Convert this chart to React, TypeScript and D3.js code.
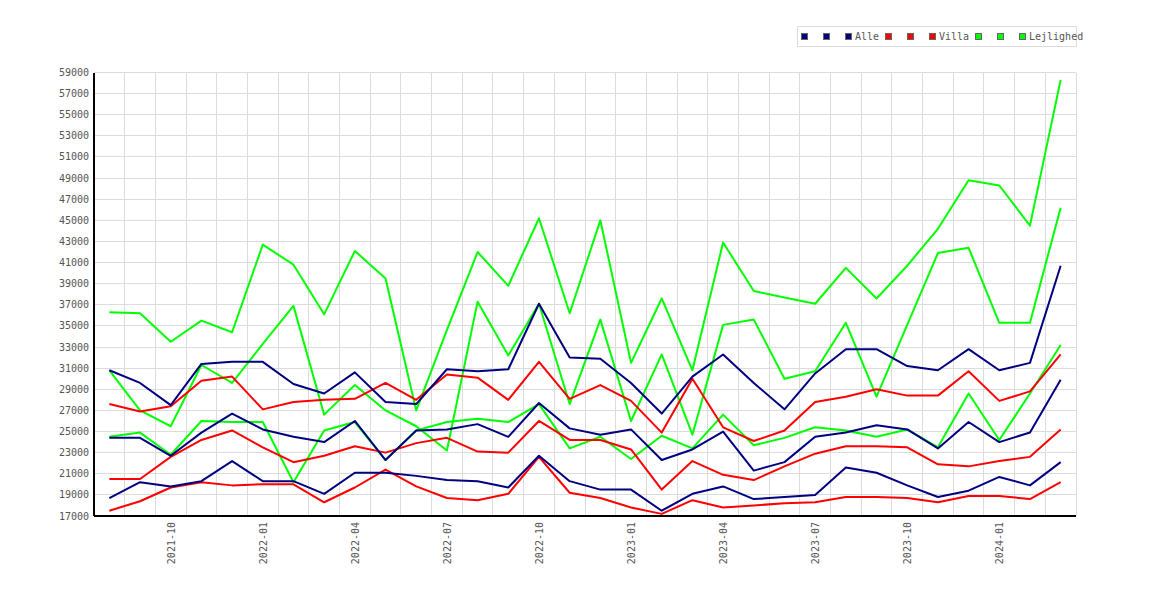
import { line, scaleBand, scaleLinear } from "d3";

const months = [
  "2021-08", "2021-09", "2021-10", "2021-11", "2021-12", "2022-01", "2022-02", "2022-03",
  "2022-04", "2022-05", "2022-06", "2022-07", "2022-08", "2022-09", "2022-10", "2022-11",
  "2022-12", "2023-01", "2023-02", "2023-03", "2023-04", "2023-05", "2023-06", "2023-07",
  "2023-08", "2023-09", "2023-10", "2023-11", "2023-12", "2024-01", "2024-02", "2024-03",
];

const xTickLabels = [
  "2021-10", "2022-01", "2022-04", "2022-07", "2022-10",
  "2023-01", "2023-04", "2023-07", "2023-10", "2024-01",
];

const yTicks = [
  17000, 19000, 21000, 23000, 25000, 27000, 29000, 31000, 33000, 35000, 37000,
  39000, 41000, 43000, 45000, 47000, 49000, 51000, 53000, 55000, 57000, 59000,
];

const alleHigh = [
  30800, 29600, 27500, 31400, 31600, 31600, 29500, 28600, 30600, 27800, 27600, 30900,
  30700, 30900, 37100, 32000, 31900, 29600, 26700, 30200, 32300, 29600, 27100, 30500,
  32800, 32800, 31200, 30800, 32800, 30800, 31500, 40700,
];
const alleMid = [
  24400, 24400, 22700, 24900, 26700, 25200, 24500, 24000, 26000, 22300, 25100, 25200,
  25700, 24500, 27700, 25300, 24700, 25200, 22300, 23300, 25000, 21300, 22100, 24500,
  24900, 25600, 25200, 23400, 25900, 24000, 24900, 29900,
];
const alleLow = [
  18700, 20200, 19800, 20300, 22200, 20300, 20300, 19100, 21100, 21100, 20800, 20400,
  20300, 19700, 22700, 20300, 19500, 19500, 17500, 19100, 19800, 18600, 18800, 19000,
  21600, 21100, 19900, 18800, 19400, 20700, 19900, 22100,
];

const villaHigh = [
  27600, 26900, 27400, 29800, 30200, 27100, 27800, 28000, 28100, 29600, 28000, 30400,
  30100, 28000, 31600, 28100, 29400, 27900, 24900, 30000, 25400, 24100, 25100, 27800,
  28300, 29000, 28400, 28400, 30700, 27900, 28800, 32300,
];
const villaMid = [
  20500, 20500, 22600, 24200, 25100, 23500, 22100, 22700, 23600, 23000, 23900, 24400,
  23100, 23000, 26000, 24200, 24200, 23300, 19500, 22200, 20900, 20400, 21700, 22900,
  23600, 23600, 23500, 21900, 21700, 22200, 22600, 25200,
];
const villaLow = [
  17500, 18400, 19700, 20200, 19900, 20000, 20000, 18300, 19700, 21400, 19800, 18700,
  18500, 19100, 22600, 19200, 18700, 17800, 17200, 18500, 17800, 18000, 18200, 18300,
  18800, 18800, 18700, 18300, 18900, 18900, 18600, 20200,
];

const lejlighedHigh = [
  36300, 36200, 33500, 35500, 34400, 42700, 40800, 36100, 42100, 39500, 27000, 34600,
  42000, 38800, 45200, 36200, 45000, 31500, 37600, 30800, 42900, 38300, 37700, 37100,
  40500, 37600, 40700, 44200, 48800, 48300, 44500, 58300,
];
const lejlighedMid = [
  30800, 27000, 25500, 31300, 29600, 33300, 36900, 26600, 29400, 27000, 25500, 23200,
  37300, 32200, 37100, 27600, 35600, 26000, 32300, 24700, 35100, 35600, 30000, 30700,
  35300, 28300, 35100, 41900, 42400, 35300, 35300, 46200,
];
const lejlighedLow = [
  24500, 24900, 22800, 26000, 25900, 25900, 20200, 25100, 25900, 22300, 25100, 25900,
  26200, 25900, 27600, 23400, 24500, 22400, 24600, 23400, 26600, 23700, 24400, 25400,
  25100, 24500, 25200, 23500, 28600, 24200, 28600, 33200,
];

// legend order; two unnamed entries before each named one
const series = [
  { name: "", color: "#000080", values: alleHigh },
  { name: "", color: "#000080", values: alleMid },
  { name: "Alle", color: "#000080", values: alleLow },
  { name: "", color: "#ff0000", values: villaHigh },
  { name: "", color: "#ff0000", values: villaMid },
  { name: "Villa", color: "#ff0000", values: villaLow },
  { name: "", color: "#00ff00", values: lejlighedHigh },
  { name: "", color: "#00ff00", values: lejlighedMid },
  { name: "Lejlighed", color: "#00ff00", values: lejlighedLow },
];

const width = 1170;
const height = 600;
const margin = { top: 72.5, right: 94, bottom: 84, left: 94 };
const font = "'DejaVu Sans Mono', monospace";
const textColor = "#555";
const gridColor = "#dcdcdc";

const App = () => {
  const xScale = scaleBand<string>()
    .domain(months)
    .range([margin.left, width - margin.right]);
  const yScale = scaleLinear()
    .domain([17000, 59000])
    .range([height - margin.bottom, margin.top]);
  const bw = xScale.bandwidth();
  const cx = (m: string) => (xScale(m) ?? 0) + bw / 2;

  const path = line<number>()
    .x((_, i) => cx(months[i]))
    .y((d) => yScale(d));

  const plotBottom = height - margin.bottom;
  const plotRight = width - margin.right;

  // legend layout: squares every 22px, text after the named ones
  let lx = 801;
  const legendItems = series.map((s) => {
    const item = { ...s, x: lx };
    lx += s.name ? 10 + s.name.length * 6 + 6 : 22;
    return item;
  });

  return (
    <svg
      width={width}
      height={height}
      style={{ position: "absolute", left: 0, top: 0, background: "#fff" }}
      fontFamily={font}
      fontSize={10}
    >
      {/* grid */}
      <g stroke={gridColor} strokeWidth={1} shapeRendering="crispEdges">
        {yTicks.map((t) => (
          <line
            key={`h${t}`}
            x1={margin.left}
            x2={plotRight}
            y1={yScale(t)}
            y2={yScale(t)}
          />
        ))}
        {months.slice(1).map((m) => (
          <line
            key={`v${m}`}
            x1={xScale(m)}
            x2={xScale(m)}
            y1={margin.top}
            y2={plotBottom}
          />
        ))}
        <line x1={plotRight} x2={plotRight} y1={margin.top} y2={plotBottom} />
      </g>

      {/* lines, drawn back to front */}
      <g fill="none" strokeWidth={2} strokeLinejoin="round">
        {[...series].reverse().map((s, i) => (
          <path key={i} d={path(s.values) ?? ""} stroke={s.color} />
        ))}
      </g>

      {/* axes */}
      <g stroke="#000" strokeWidth={1.5} shapeRendering="crispEdges">
        <line x1={margin.left} x2={margin.left} y1={margin.top} y2={plotBottom} />
        <line x1={margin.left} x2={plotRight} y1={plotBottom} y2={plotBottom} />
      </g>

      <g fill={textColor} textAnchor="end">
        {yTicks.map((t) => (
          <text key={`yl${t}`} x={89} y={yScale(t)} dy="0.35em">
            {t}
          </text>
        ))}
        {xTickLabels.map((m) => (
          <text
            key={`xl${m}`}
            transform={`translate(${cx(m) + 4}, 522) rotate(-90)`}
          >
            {m}
          </text>
        ))}
      </g>

      {/* legend */}
      <g>
        <rect
          x={797.5}
          y={26.5}
          width={279}
          height={20}
          fill="#fff"
          stroke={gridColor}
          shapeRendering="crispEdges"
        />
        {legendItems.map((it, i) => (
          <g key={`lg${i}`}>
            <rect
              x={it.x + 0.5}
              y={33.5}
              width={6}
              height={6}
              fill={it.color}
              stroke="#666"
              shapeRendering="crispEdges"
            />
            {it.name && (
              <text x={it.x + 10} y={40} fill={textColor}>
                {it.name}
              </text>
            )}
          </g>
        ))}
      </g>
    </svg>
  );
};

export default App;
